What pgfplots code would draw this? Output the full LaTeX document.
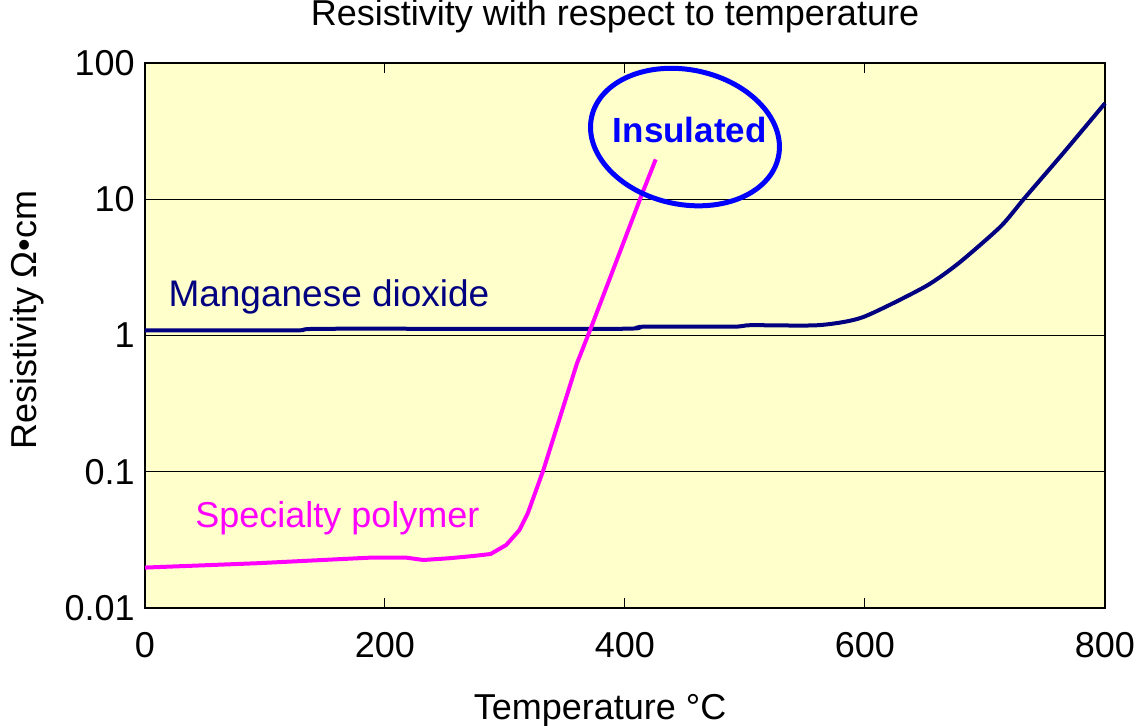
\documentclass[border=0pt]{standalone}
\usepackage{pgfplots}
\pgfplotsset{compat=1.18}
\usepackage{fontspec}
\setmainfont{Liberation Sans}
\usetikzlibrary{shapes.geometric}
\definecolor{bgyellow}{RGB}{255,255,204}
\definecolor{mnnavy}{RGB}{0,0,128}
\definecolor{polymag}{RGB}{255,0,255}
\definecolor{insblue}{RGB}{0,0,255}
\begin{document}
\begin{tikzpicture}
\begin{axis}[
  at={(0,0)}, anchor=south west,
  width=480pt, height=272.5pt, scale only axis,
  xmin=0, xmax=800, ymode=log, ymin=0.01, ymax=100,
  clip=false,
  axis background/.style={fill=bgyellow},
  axis line style={black, line width=1pt},
  xtick={0,200,400,600,800},
  xticklabels={\textrm{0},\textrm{200},\textrm{400},\textrm{600},\textrm{800}},
  ytick={0.01,0.1,1,10,100},
  yticklabels={\textrm{0.01},\textrm{0.1},\textrm{1},\textrm{10},\textrm{100}},
  yminorticks=false, xminorticks=false,
  tick align=inside, major tick length=5pt,
  xtick style={black, line width=0.5pt},
  ytick style={draw=none},
  ymajorgrids, grid style={black, line width=0.5pt},
  tick label style={font=\fontsize{18}{21.6}\selectfont},
  xticklabel style={anchor=base, yshift=-25pt},
  yticklabel style={anchor=east, inner sep=0pt, xshift=-5pt},
  title={Resistivity with respect to temperature},
  title style={at={(axis description cs:0.4896,1)}, anchor=base, yshift=12.5pt, font=\fontsize{18}{21.6}\selectfont},
  xlabel={Temperature °C},
  xlabel style={at={(axis description cs:0.474,0)}, anchor=base, yshift=-56pt, font=\fontsize{18}{21.6}\selectfont},
  ylabel={Resistivity Ω•cm},
  ylabel style={at={(axis description cs:-0.1229,0.528)}, anchor=center, font=\fontsize{18}{21.6}\selectfont},
]
\addplot[color=mnnavy, line width=2pt, smooth, tension=0.4] coordinates {
(0,1.09) (125,1.09) (150,1.12) (395,1.12) (415,1.16) (490,1.16) (505,1.19) (561,1.19)
(598,1.36) (650,2.28) (678,3.39) (713,6.3) (733,10.2) (765,21.7) (800,50.6)
};
\addplot[color=polymag, line width=2pt] coordinates {
(0,0.0198) (93,0.0213) (187,0.0234) (218,0.0234) (232,0.0225) (254,0.0232) (274,0.0241)
(288,0.0249) (301,0.029) (312,0.0373) (319,0.0496) (332,0.103) (360,0.625) (372,1.16)
(415,11.4) (425.6,19.6)
};
\node[anchor=base, text=mnnavy, font=\fontsize{18.5}{22}\selectfont] at (axis cs:153.3,1.62) {Manganese dioxide};
\node[anchor=base, text=polymag, font=\fontsize{18}{21.6}\selectfont] at (axis cs:160.4,0.0393) {Specialty polymer};
\node[anchor=base, text=insblue, font=\bfseries\fontsize{17.5}{21}\selectfont] at (axis cs:454,25.9) {Insulated};
\node[draw=insblue, line width=2.5pt, ellipse, minimum width=95.5pt, minimum height=67.3pt, inner sep=0pt, rotate=-12] at (axis cs:450,28.6) {};
\end{axis}
\pgfresetboundingbox
\path[use as bounding box] (-72.5pt,-59pt) rectangle (496pt,304pt);
\end{tikzpicture}
\end{document}
